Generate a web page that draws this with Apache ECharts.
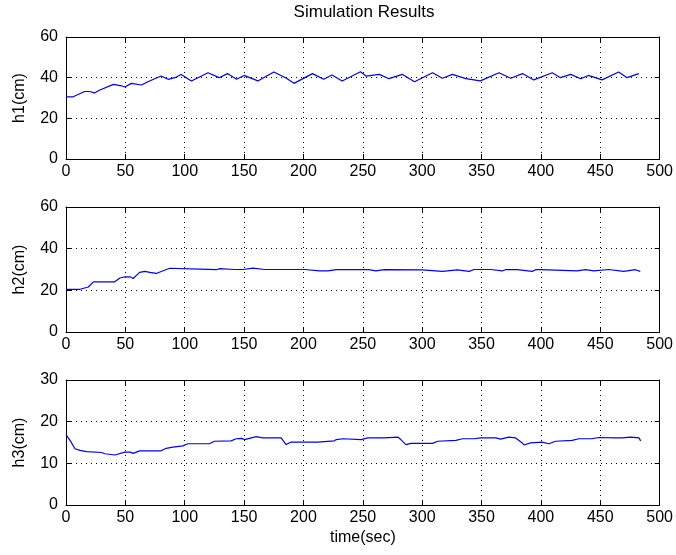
<!DOCTYPE html>
<html><head><meta charset="utf-8">
<script src="https://cdn.jsdelivr.net/npm/echarts@6/dist/echarts.min.js"></script>
<style>html,body{margin:0;padding:0;background:#fff}#c{width:676px;height:555px}</style>
</head><body><div id="c"></div>
<script>
var t1 = [0,6,15.7,20,24,28,40,46.6,49.6,55,63.6,69,80,86,91.7,97,105.6,119.6,129,136,143.6,150,161.6,175,185,192,207.6,217,224,232.6,248,252.7,264,272,283.5,293.5,308.7,317,325.5,336.7,349,364.7,374.5,384.5,394,409.5,416.5,425,433.5,440,451.5,465.5,472.5,482.5];
var h1 = [30.6,30.6,33.2,33.2,32.5,33.8,36.7,36,35.4,37.2,36.4,38,40.8,39.2,40,41.6,38.4,42.4,40,42,39.2,41.1,38.4,42.8,40,37.2,42,39.2,41.3,38.4,42.9,40.8,41.6,39.5,41.6,38,42.4,39.7,41.6,39.5,38.4,42.4,39.7,42,38.9,42.4,40,41.6,39.5,41.1,38.9,42.8,40,42];
var t2 = [0,11.8,18.8,23,41,45.4,49.6,54,56.6,62,66.4,70.6,76,81.8,87.4,112.6,114,126.6,129.5,142,143.4,149,157.5,167.3,201,202.4,213.5,215,220.6,227.7,239,240,255,261,268,300,301.6,317,318.4,329.6,331,339.5,343.7,357.7,359,367.5,370,380,381.5,392.7,395.5,400,401,430.5,432,437.6,439,444.6,446,457,458.6,469.8,471,479.5,483.7];
var h2 = [20.5,20.5,21.6,24.1,24.1,25.9,26.5,26.5,25.7,28.6,29.1,28.6,28.1,29.4,30.6,30.2,29.9,29.9,30.4,30,30.6,30,30.7,30,30,29.3,29.3,29.9,29.3,29.9,29.9,29.3,29.9,29.3,29.9,29.8,29.1,29.1,29.8,29.8,30.2,29.1,30,30,29.3,29.3,29.9,29.9,29.1,29.1,29.9,29.9,29.3,29.3,29.9,29.9,29.3,29.3,30,30,29.1,29.1,29.9,29.9,29.1];
var t3 = [0,3.4,7.6,11.8,17.4,30,32.8,41.2,49.6,54,56.6,62,80,84.4,90,98.4,102.6,120.8,125,139,143.4,147.6,150.4,160.2,165.8,181.2,185.4,189.6,212,213.5,226,227.7,233.3,234.7,248.7,254,268,269.6,279.4,282,286.3,290.5,308.7,313,328.4,334,343.7,349.3,362,366,373,378.7,384.3,385.7,391.3,401,406.7,412.3,426.3,431.9,443,448.7,462.7,464,468.5,475.6,482.6,484];
var h3 = [16.9,15.5,13.5,13.1,12.8,12.6,12.3,12,12.7,12.7,12.4,13,13,13.6,13.9,14.2,14.7,14.7,15.3,15.4,15.9,16,15.7,16.4,16.1,16.1,14.5,15.1,15.1,15.4,15.4,15.7,15.9,15.7,15.7,16.1,16.1,16.3,16.3,15.7,14.5,14.8,14.8,15.3,15.5,15.9,15.9,16.1,16.1,15.8,16.3,16.1,14.9,14.4,14.9,15.1,14.7,15.3,15.5,15.9,15.9,16.2,16.1,15.7,16.1,16.3,16.1,15.4];
var yNames = ['h1(cm)','h2(cm)','h3(cm)'];
var yMax = [60,60,30];
var yStep = [20,20,10];
var titleText = 'Simulation Results';
var xName = 'time(sec)';

var FONT = 'Liberation Sans';
var FS = 16;
var grids = [
  {left:66, right:13, top:37, height:122},
  {left:66, right:13, top:207, height:125},
  {left:66, right:13, top:380, height:125}
];
var dotted = {color:'#000', width:1, type:[1,4]};
var xAxes = [], yAxes = [], series = [];
var ts = [t1,t2,t3], hs = [h1,h2,h3];
for (var i=0;i<3;i++){
  xAxes.push({gridIndex:i, type:'value', min:0, max:500, interval:50, position:'bottom',
    name: i===2 ? xName : '', nameLocation:'middle', nameGap:25,
    nameTextStyle:{color:'#000', fontFamily:FONT, fontSize:FS},
    axisLine:{show:true, lineStyle:{color:'#000'}}, axisTick:{inside:true, length:5, lineStyle:{color:'#000'}},
    axisLabel:{color:'#000', fontFamily:FONT, fontSize:FS, margin:5},
    splitLine:{show:true, lineStyle:dotted}});
  xAxes.push({gridIndex:i, type:'value', min:0, max:500, interval:50, position:'top',
    axisLine:{show:true, onZero:false, lineStyle:{color:'#000'}}, axisTick:{inside:true, length:5, lineStyle:{color:'#000'}},
    axisLabel:{show:false}, splitLine:{show:false}});
  yAxes.push({gridIndex:i, type:'value', min:0, max:yMax[i], interval:yStep[i], position:'left',
    name: yNames[i], nameLocation:'middle', nameGap:38, nameRotate:90,
    nameTextStyle:{color:'#000', fontFamily:FONT, fontSize:FS},
    axisLine:{show:true, onZero:false, lineStyle:{color:'#000'}}, axisTick:{inside:true, length:5, lineStyle:{color:'#000'}},
    axisLabel:{color:'#000', fontFamily:FONT, fontSize:FS, margin:8},
    splitLine:{show:true, lineStyle:dotted}});
  yAxes.push({gridIndex:i, type:'value', min:0, max:yMax[i], interval:yStep[i], position:'right',
    axisLine:{show:true, onZero:false, lineStyle:{color:'#000'}}, axisTick:{inside:true, length:5, lineStyle:{color:'#000'}},
    axisLabel:{show:false}, splitLine:{show:false}});
  var d = [];
  for (var k=0;k<ts[i].length;k++) d.push([ts[i][k], hs[i][k]]);
  series.push({type:'line', xAxisIndex:2*i, yAxisIndex:2*i, data:d, showSymbol:false, symbol:'none',
    lineStyle:{color:'#0000ff', width:1.2}, animation:false});
}
var chart = echarts.init(document.getElementById('c'));
chart.setOption({
  backgroundColor:'#fff',
  animation:false,
  title:{text:titleText, left:364, textAlign:'center', top:4, textStyle:{color:'#000', fontFamily:FONT, fontSize:17, fontWeight:'normal'}, padding:0, itemGap:0},
  grid:grids, xAxis:xAxes, yAxis:yAxes, series:series
});
</script></body></html>
